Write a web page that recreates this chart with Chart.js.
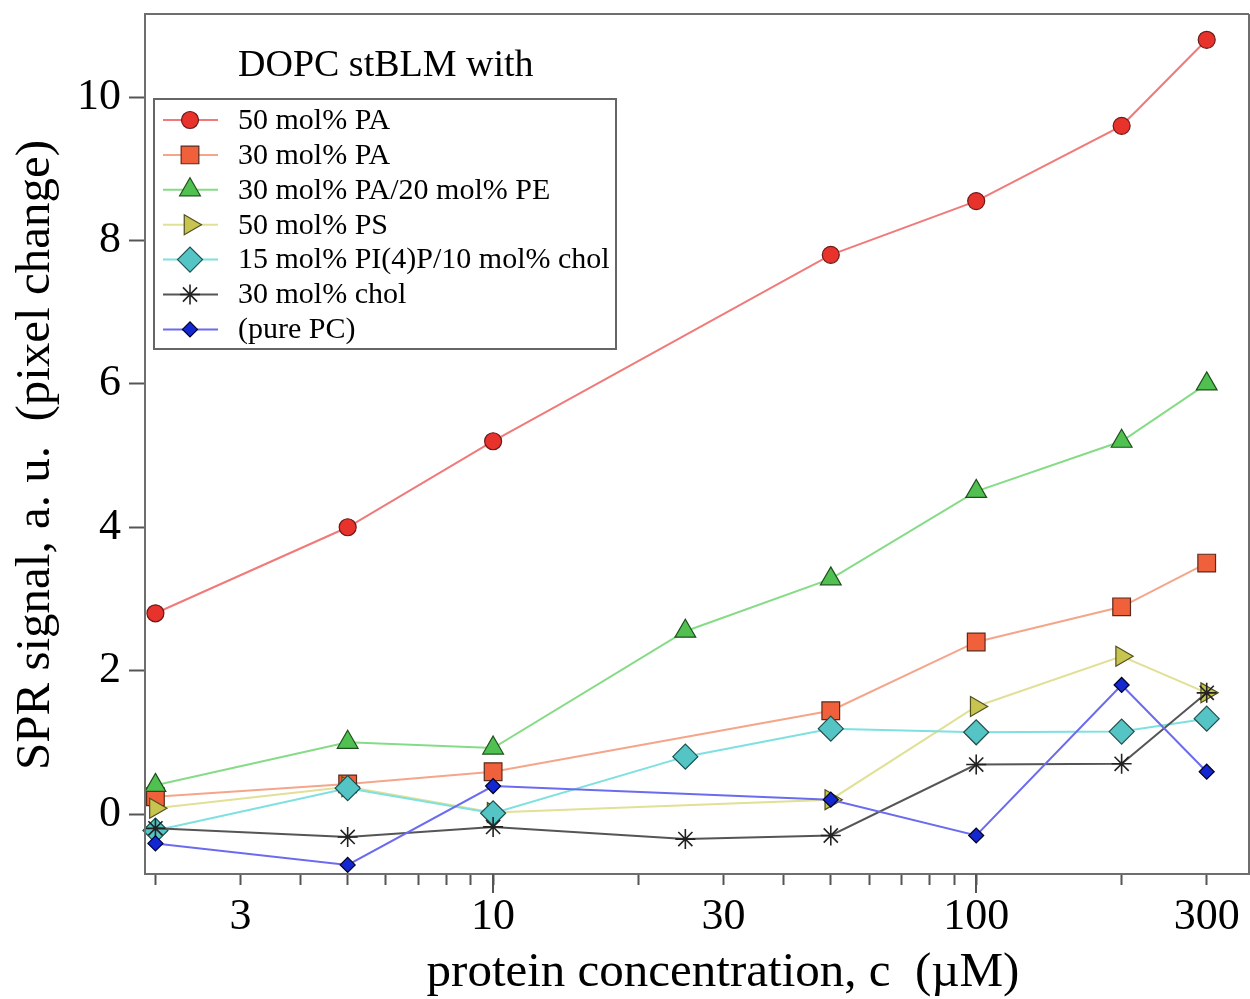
<!DOCTYPE html>
<html>
<head>
<meta charset="utf-8">
<script src="https://cdn.jsdelivr.net/npm/chart.js@4.4.1/dist/chart.umd.min.js"></script>
<style>
  html, body { margin: 0; padding: 0; background: #fff; }
  #c { display: block; }
</style>
</head>
<body>
<canvas id="c" width="1250" height="999"></canvas>
<script>
// ---- data ----
const concentrations = [2, 5, 10, 25, 50, 100, 200, 300];
const seriesLabels = [
  "50 mol% PA",
  "30 mol% PA",
  "30 mol% PA/20 mol% PE",
  "50 mol% PS",
  "15 mol% PI(4)P/10 mol% chol",
  "30 mol% chol",
  "(pure PC)"
];
const pa50      = [2.80, 4.00, 5.20, null, 7.80, 8.55, 9.60, 10.80];
const pa30      = [0.24, 0.42, 0.59, null, 1.44, 2.40, 2.89, 3.50];
const pa30pe20  = [0.40, 1.00, 0.92, 2.55, 3.28, 4.50, 5.20, 6.00];
const ps50      = [0.08, 0.38, 0.02, null, 0.20, 1.50, 2.20, 1.69];
const pi4p15    = [-0.23, 0.36, 0.01, 0.80, 1.19, 1.14, 1.15, 1.33];
const chol30    = [-0.20, -0.32, -0.18, -0.35, -0.30, 0.69, 0.70, 1.69];
const purePC    = [-0.41, -0.71, 0.39, null, 0.20, -0.30, 1.80, 0.59];
const xTickValues = [2,3,4,5,6,7,8,9,10,20,30,40,50,60,70,80,90,100,200,300];
const xTickLabels = [3, 10, 30, 100, 300];
const xMajorTicks = [10, 100];
const yTickValues = [0, 2, 4, 6, 8, 10];
const legendTitle = "DOPC stBLM with";
const xTitle = "protein concentration, c  (\u00B5M)";
const yTitle = "SPR signal, a. u.  (pixel change)";

const FONT = '"Liberation Serif", "Times New Roman", serif';

function pts(arr) {
  const out = [];
  arr.forEach((v, i) => { if (v !== null) out.push({x: concentrations[i], y: v}); });
  return out;
}

const styles = [
  {line: '#f07a7a', fill: '#e8322c', edge: '#6a1a1a', shape: 'circle', r: 8.5, rot: 0},
  {line: '#f5a58a', fill: '#f0603a', edge: '#5a2a1a', shape: 'rect', r: 12.5, rot: 0},
  {line: '#86dc86', fill: '#50c050', edge: '#1e501e', shape: 'triangle', r: 12, rot: 0},
  {line: '#e0e096', fill: '#c8c450', edge: '#505020', shape: 'triangle', r: 11.5, rot: 90},
  {line: '#7ee0e0', fill: '#55c4c4', edge: '#1e5050', shape: 'rectRot', r: 12.5, rot: 0},
  {line: '#555555', fill: '#222222', edge: '#222222', shape: 'star', r: 10, rot: 0},
  {line: '#6b6bf0', fill: '#1428d2', edge: '#000030', shape: 'rectRot', r: 7.5, rot: 0}
];
const seriesData = [pa50, pa30, pa30pe20, ps50, pi4p15, chol30, purePC];

const datasets = seriesData.map((arr, i) => ({
  label: seriesLabels[i],
  data: pts(arr),
  borderColor: styles[i].line,
  borderWidth: 2,
  pointStyle: styles[i].shape,
  pointRadius: styles[i].r,
  pointRotation: styles[i].rot,
  pointBackgroundColor: styles[i].fill,
  pointBorderColor: styles[i].edge,
  pointBorderWidth: i === 5 ? 1.6 : 1.2,
  tension: 0,
  fill: false,
  clip: false,
  order: -i
}));

const framePlugin = {
  id: 'frame',
  afterDraw(chart) {
    const ctx = chart.ctx;
    const a = chart.chartArea;
    const xs = chart.scales.x;
    ctx.save();
    ctx.strokeStyle = '#6e6e6e';
    ctx.lineWidth = 2;
    ctx.beginPath();
    ctx.moveTo(a.left, a.top); ctx.lineTo(a.right, a.top);
    ctx.moveTo(a.right, a.top); ctx.lineTo(a.right, a.bottom);
    ctx.moveTo(a.left, a.top); ctx.lineTo(a.left, a.bottom);
    ctx.stroke();
    // longer decade ticks
    ctx.strokeStyle = '#555';
    ctx.beginPath();
    xMajorTicks.forEach(v => {
      const px = Math.round(xs.getPixelForValue(v));
      ctx.moveTo(px, a.bottom); ctx.lineTo(px, a.bottom + 19);
    });
    ctx.stroke();
    // axis titles
    ctx.fillStyle = '#000';
    ctx.font = '49px ' + FONT;
    ctx.textAlign = 'center';
    ctx.textBaseline = 'alphabetic';
    ctx.fillText(xTitle, 723, 986);
    ctx.translate(49, 455);
    ctx.rotate(-Math.PI / 2);
    ctx.fillText(yTitle, 0, 0);
    ctx.restore();

    // legend
    ctx.save();
    ctx.font = '38px ' + FONT;
    ctx.fillStyle = '#000';
    ctx.textAlign = 'left';
    ctx.textBaseline = 'middle';
    ctx.fillText(legendTitle, 238, 66);
    ctx.fillStyle = '#fff';
    ctx.fillRect(154, 99, 462, 250);
    ctx.strokeStyle = '#666';
    ctx.lineWidth = 2;
    ctx.strokeRect(154, 99, 462, 250);
    ctx.font = '30px ' + FONT;
    chart.data.datasets.forEach((ds, i) => {
      const y = 120 + i * 34.9;
      ctx.strokeStyle = ds.borderColor;
      ctx.lineWidth = 2;
      ctx.beginPath(); ctx.moveTo(163, y); ctx.lineTo(218, y); ctx.stroke();
      ctx.fillStyle = ds.pointBackgroundColor;
      ctx.strokeStyle = ds.pointBorderColor;
      ctx.lineWidth = ds.pointBorderWidth;
      Chart.helpers.drawPoint(ctx, {
        pointStyle: ds.pointStyle, radius: ds.pointRadius,
        rotation: ds.pointRotation, borderWidth: ds.pointBorderWidth
      }, 190, y);
      ctx.fillStyle = '#000';
      ctx.fillText(ds.label, 238, y + 1);
    });
    ctx.restore();
  }
};

new Chart(document.getElementById('c'), {
  type: 'line',
  data: { datasets },
  plugins: [framePlugin],
  options: {
    responsive: false,
    animation: false,
    layout: { autoPadding: false, padding: { left: 0, top: 14, right: 1, bottom: 0 } },
    plugins: { legend: { display: false }, tooltip: { enabled: false } },
    scales: {
      x: {
        type: 'logarithmic',
        min: 1.903, max: 367,
        afterBuildTicks: s => { s.ticks = xTickValues.map(v => ({ value: v })); },
        afterFit: s => { s.height = 125; s.paddingLeft = 0; s.paddingRight = 0; s.paddingTop = 0; s.paddingBottom = 0; },
        ticks: {
          autoSkip: false, maxRotation: 0, minRotation: 0,
          padding: 6, color: '#000',
          font: { family: FONT, size: 44 },
          callback: v => xTickLabels.includes(v) ? String(v) : ''
        },
        grid: { drawOnChartArea: false, drawTicks: true, tickLength: 11, tickColor: '#555', tickWidth: 2 },
        border: { display: true, color: '#6e6e6e', width: 2 }
      },
      y: {
        type: 'linear',
        min: -0.837, max: 11.16,
        afterBuildTicks: s => { s.ticks = yTickValues.map(v => ({ value: v })); },
        afterFit: s => { s.width = 145; s.paddingLeft = 0; s.paddingRight = 0; s.paddingTop = 0; s.paddingBottom = 0; },
        ticks: { padding: 8, color: '#000', font: { family: FONT, size: 44 } },
        grid: { drawOnChartArea: false, drawTicks: true, tickLength: 16, tickColor: '#555', tickWidth: 2 },
        border: { display: true, color: '#6e6e6e', width: 2 }
      }
    }
  }
});
</script>
</body>
</html>
